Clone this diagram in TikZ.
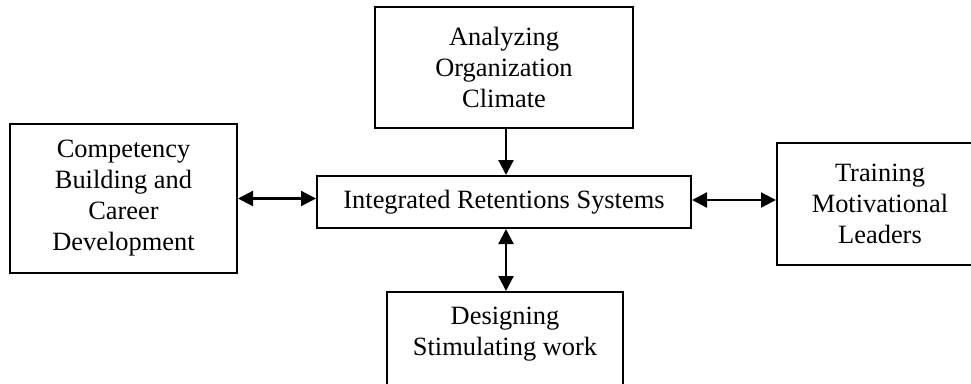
\documentclass[tikz,border=0pt]{standalone}
\usepackage{fontspec}
\setmainfont{Liberation Serif}
\usetikzlibrary{arrows.meta}
\begin{document}
\begin{tikzpicture}[x=1pt,y=-1pt,
  box/.style={draw, line width=2pt, inner sep=0pt, align=center,
    font=\fontsize{26.4}{31}\selectfont},
  txt/.style={inner sep=0pt, align=center, font=\fontsize{26.4}{31}\selectfont},
  arr/.style={line width=2.2pt, -{Triangle[length=15pt,width=15pt]}},
  darr/.style={line width=2.2pt, {Triangle[length=15pt,width=15pt]}-{Triangle[length=15pt,width=15pt]}}]
\useasboundingbox (0,0) rectangle (971,383);
\clip (0,0) rectangle (971,383);
\node[box, minimum width=258pt, minimum height=121pt] (top) at (504,67.5) {Analyzing\\Organization\\Climate};
\node[box, minimum width=374pt, minimum height=52pt] (center) at (504,202) {Integrated Retentions Systems};
\node[box, minimum width=227pt, minimum height=149pt] (left) at (123.5,198.5) {Competency\\Building and\\Career\\Development};
\node[box, minimum width=206pt, minimum height=122pt] (right) at (880,204) {Training\\Motivational\\Leaders};
\node[box, minimum width=236pt, minimum height=110pt] (bottom) at (505,347) {};
\node[txt] (bottomtext) at (505,334) {Designing\\Stimulating work};
\draw[arr] ([xshift=2pt]top.south) -- ([xshift=2pt]top.south |- center.north);
\draw[darr] (left.east) -- (left.east -| center.west);
\draw[darr] ([yshift=2pt]center.east) -- ([yshift=2pt]center.east -| right.west);
\draw[darr] ([xshift=2pt]center.south) -- ([xshift=2pt]center.south |- bottom.north);
\end{tikzpicture}
\end{document}
